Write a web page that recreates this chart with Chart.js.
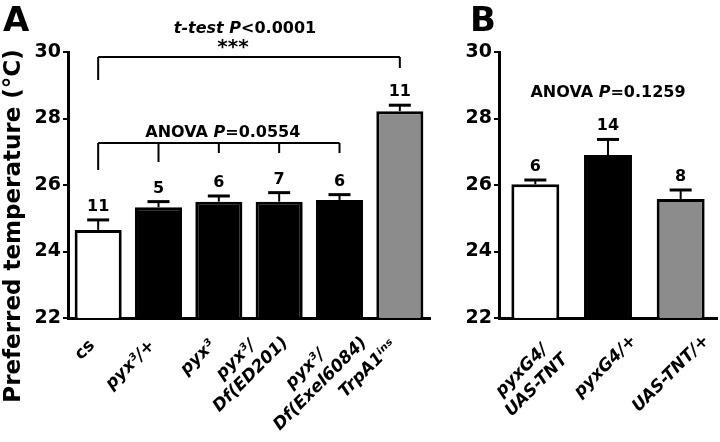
<!DOCTYPE html>
<html>
<head>
<meta charset="utf-8">
<script src="https://cdn.jsdelivr.net/npm/chart.js@4.4.0/dist/chart.umd.min.js"></script>
<style>
html, body { margin: 0; padding: 0; background: #fff; }
#wrap { position: relative; width: 720px; height: 442px; }
#boxA { position: absolute; left: 0; top: 0; width: 440px; height: 442px; }
#boxB { position: absolute; left: 440px; top: 0; width: 280px; height: 442px; }
</style>
</head>
<body>
<div id="wrap">
  <div id="boxA"><canvas id="chartA" width="440" height="442"></canvas></div>
  <div id="boxB"><canvas id="chartB" width="280" height="442"></canvas></div>
</div>
<script>

//------------------------------- data

const labelsA = ['cs', 'pyx³/+', 'pyx³', ['pyx³/', 'Df(ED201)'], ['pyx³/', 'Df(Exel6084)'], 'TrpA1ⁱⁿˢ'];
const meanA = [24.65, 25.33, 25.5, 25.5, 25.55, 28.22];
const semA = [0.3, 0.17, 0.17, 0.27, 0.16, 0.18];
const nA = [11, 5, 6, 7, 6, 11];
const colorA = ['#ffffff', '#000000', '#000000', '#000000', '#000000', '#8c8c8c'];

const labelsB = [['pyxG4/', 'UAS-TNT'], 'pyxG4/+', 'UAS-TNT/+'];
const meanB = [26.02, 26.9, 25.58];
const semB = [0.13, 0.47, 0.27];
const nB = [6, 14, 8];
const colorB = ['#ffffff', '#000000', '#8c8c8c'];

const yTicks = [22, 24, 26, 28, 30];

const ttestText = [['t-test P', true], ['<0.0001', false]];
const anovaAText = [['ANOVA ', false], ['P', true], ['=0.0554', false]];
const anovaBText = [['ANOVA ', false], ['P', true], ['=0.1259', false]];

//------------------------------- helpers

const fontFam = "'DejaVu Sans', sans-serif";

function drawMixed(ctx, parts, cx, baseline, size){
    let total = 0;
    for (let i = 0; i < parts.length; i++) {
        ctx.font = (parts[i][1] ? 'italic ' : '') + 'bold ' + size + 'px ' + fontFam;
        total += ctx.measureText(parts[i][0]).width;
    }
    let x = cx - total / 2;
    ctx.textAlign = 'left';
    ctx.textBaseline = 'alphabetic';
    ctx.fillStyle = '#000';
    for (let i = 0; i < parts.length; i++) {
        ctx.font = (parts[i][1] ? 'italic ' : '') + 'bold ' + size + 'px ' + fontFam;
        ctx.fillText(parts[i][0], x, baseline);
        x += ctx.measureText(parts[i][0]).width;
    }
}

// rotated category labels; sh = [single dx, single dy, double dx, double dy]
function drawXLabels(chart, labels, firstNormal, sh){
    const ctx = chart.ctx;
    const xs = chart.scales.x;
    const top = xs.top;
    const k = Math.SQRT1_2;
    ctx.save();
    ctx.fillStyle = '#000';
    for (let i = 0; i < labels.length; i++) {
        const tx = xs.getPixelForTick(i);
        ctx.font = ((firstNormal && i == 0) ? '' : 'italic ') + 'bold 17px ' + fontFam;
        const lab = labels[i];
        ctx.save();
        if( !Array.isArray(lab) ){
            ctx.translate(tx + sh[0], top + sh[1]);
            ctx.rotate(-Math.PI / 4);
            ctx.textAlign = 'right';
            ctx.textBaseline = 'top';
            ctx.fillText(lab, 0, 0);
        }
        else{
            const w2 = ctx.measureText(lab[1]).width;
            ctx.translate(tx + sh[2] + k * w2, top + sh[3]);
            ctx.rotate(-Math.PI / 4);
            ctx.textAlign = 'center';
            ctx.textBaseline = 'top';
            ctx.fillText(lab[1], -w2 / 2, 0);
            ctx.fillText(lab[0], -w2 / 2, -21);
        }
        ctx.restore();
    }
    ctx.restore();
}

function drawErrBars(chart, sem, nums){
    const ctx = chart.ctx;
    const meta = chart.getDatasetMeta(0);
    const y = chart.scales.y;
    const data = chart.data.datasets[0].data;
    ctx.save();
    ctx.strokeStyle = '#000';
    ctx.fillStyle = '#000';
    for (let i = 0; i < meta.data.length; i++) {
        const bar = meta.data[i];
        const yTop = y.getPixelForValue(data[i]);
        const yErr = y.getPixelForValue(data[i] + sem[i]);
        ctx.lineWidth = 2;
        ctx.beginPath(); ctx.moveTo(bar.x, yTop); ctx.lineTo(bar.x, yErr); ctx.stroke();
        ctx.lineWidth = 3;
        ctx.beginPath(); ctx.moveTo(bar.x - 11, yErr); ctx.lineTo(bar.x + 11, yErr); ctx.stroke();
        ctx.font = 'bold 16px ' + fontFam;
        ctx.textAlign = 'center';
        ctx.textBaseline = 'alphabetic';
        ctx.fillText(String(nums[i]), bar.x, yErr - 9);
    }
    ctx.restore();
}

// bracket: horizontal line at value lineY, drop lines down to drops[k] under bar idx[k]
function drawBracket(chart, idx, lineY, drops){
    const ctx = chart.ctx;
    const meta = chart.getDatasetMeta(0);
    const y = chart.scales.y;
    const yl = y.getPixelForValue(lineY);
    ctx.save();
    ctx.strokeStyle = '#000';
    ctx.lineWidth = 2;
    ctx.beginPath();
    ctx.moveTo(meta.data[idx[0]].x, yl);
    ctx.lineTo(meta.data[idx[idx.length - 1]].x, yl);
    for (let k = 0; k < idx.length; k++) {
        ctx.moveTo(meta.data[idx[k]].x, yl);
        ctx.lineTo(meta.data[idx[k]].x, y.getPixelForValue(drops[k]));
    }
    ctx.stroke();
    ctx.restore();
}

function makeOptions(yWidth, padRight){
    return {
        responsive: false,
        animation: false,
        layout: { padding: { top: 52, left: 0, right: padRight, bottom: 0 } },
        plugins: { legend: { display: false }, tooltip: { enabled: false } },
        scales: {
            x: {
                afterFit: function(s){ s.height = 124; },
                grid: { display: false, drawTicks: false },
                border: { display: true, color: '#000', width: 3 },
                ticks: { display: false }
            },
            y: {
                min: yTicks[0], max: yTicks[yTicks.length - 1],
                afterFit: function(s){ s.width = yWidth; },
                afterBuildTicks: function(s){ s.ticks = yTicks.map(v => ({ value: v })); },
                grid: { drawOnChartArea: false, drawTicks: true, tickLength: 5, color: '#000', lineWidth: 2 },
                border: { display: true, color: '#000', width: 3 },
                ticks: { padding: 2, color: '#000', font: { family: fontFam, size: 19, weight: 'bold' } }
            }
        }
    };
}

//------------------------------- panel A

const plugA = {
    id: 'plugA',
    afterDatasetsDraw: function(chart){
        drawErrBars(chart, semA, nA);
        drawBracket(chart, [0, 5], 29.85, [29.16, 29.52]);
        drawBracket(chart, [0, 1, 2, 3, 4], 27.26, [26.45, 26.69, 26.96, 26.96, 26.96]);
        drawXLabels(chart, labelsA, true, [-12, 19, -69, 16]);

        const ctx = chart.ctx;
        const meta = chart.getDatasetMeta(0);
        const y = chart.scales.y;
        ctx.save();
        const midT = (meta.data[0].x + meta.data[5].x) / 2;
        drawMixed(ctx, ttestText, midT - 4, y.getPixelForValue(30.57), 16);
        ctx.font = 'bold 20px ' + fontFam;
        ctx.textAlign = 'center';
        ctx.fillText('***', midT - 16, y.getPixelForValue(29.96));
        const midA = (meta.data[0].x + meta.data[4].x) / 2;
        drawMixed(ctx, anovaAText, midA + 4, y.getPixelForValue(27.44), 16);

        ctx.font = 'bold 34px ' + fontFam;
        ctx.textAlign = 'left';
        ctx.fillText('A', 3, 31);

        ctx.translate(14, 226);
        ctx.rotate(-Math.PI / 2);
        ctx.font = 'bold 23px ' + fontFam;
        ctx.textAlign = 'center';
        ctx.textBaseline = 'middle';
        ctx.fillText('Preferred temperature (°C)', 0, 0);
        ctx.restore();
    }
};

const chartA = new Chart(document.getElementById('chartA'), {
    type: 'bar',
    data: {
        labels: labelsA,
        datasets: [{
            data: meanA,
            backgroundColor: colorA,
            borderColor: '#000',
            borderWidth: 3,
            categoryPercentage: 1,
            barPercentage: 0.78
        }]
    },
    options: makeOptions(68, 10),
    plugins: [plugA]
});

//------------------------------- panel B

const plugB = {
    id: 'plugB',
    afterDatasetsDraw: function(chart){
        drawErrBars(chart, semB, nB);
        drawXLabels(chart, labelsB, false, [20, 14, -33, 33]);
        const ctx = chart.ctx;
        const meta = chart.getDatasetMeta(0);
        const y = chart.scales.y;
        ctx.save();
        const mid = (meta.data[0].x + meta.data[2].x) / 2;
        drawMixed(ctx, anovaBText, mid, y.getPixelForValue(28.65), 16);
        ctx.font = 'bold 34px ' + fontFam;
        ctx.textAlign = 'left';
        ctx.fillText('B', 30, 31);
        ctx.restore();
    }
};

const chartB = new Chart(document.getElementById('chartB'), {
    type: 'bar',
    data: {
        labels: labelsB,
        datasets: [{
            data: meanB,
            backgroundColor: colorB,
            borderColor: '#000',
            borderWidth: 3,
            categoryPercentage: 1,
            barPercentage: 0.66
        }]
    },
    options: makeOptions(59, 3),
    plugins: [plugB]
});

</script>
</body>
</html>
